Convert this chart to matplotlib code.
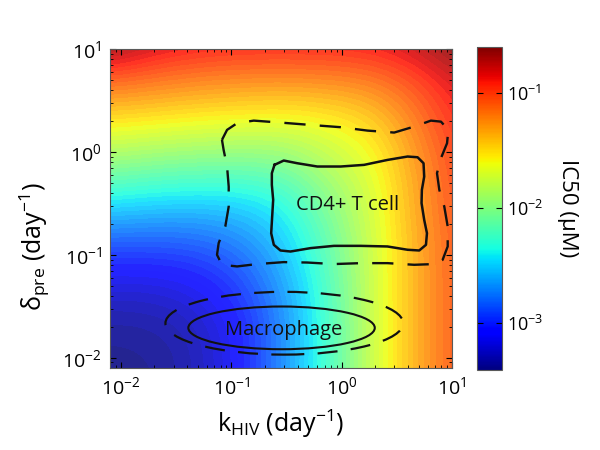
import numpy as np
import matplotlib
matplotlib.use('Agg')
import matplotlib.pyplot as plt
from matplotlib.colors import LogNorm
from matplotlib.patches import Ellipse
from matplotlib.ticker import FixedLocator, FuncFormatter

plt.rcParams['font.family'] = ['Open Sans', 'DejaVu Sans']
plt.rcParams['mathtext.fontset'] = 'custom'
plt.rcParams['mathtext.rm'] = 'Open Sans'
plt.rcParams['mathtext.it'] = 'Open Sans:italic'
plt.rcParams['mathtext.default'] = 'regular'

# grille : log10(k_HIV), log10(delta_pre)
log_k = [-2.1, -1.7, -1.3, -0.9, -0.5, -0.1, 0.3, 0.7, 1.1]
log_delta = [-2.1, -1.7, -1.3, -0.9, -0.5, -0.1, 0.3, 0.7, 1.1]

# log10(IC50 en uM), une ligne par valeur de delta_pre (du bas vers le haut)
log_ic50 = [
    [-3.40, -3.38, -3.28, -3.06, -2.66, -2.23, -1.72, -1.33, -1.02],
    [-3.35, -3.34, -3.26, -3.05, -2.68, -2.23, -1.72, -1.33, -1.02],
    [-3.18, -3.18, -3.11, -2.94, -2.62, -2.20, -1.72, -1.33, -1.02],
    [-2.88, -2.88, -2.86, -2.74, -2.50, -2.13, -1.72, -1.33, -1.01],
    [-2.43, -2.48, -2.50, -2.48, -2.36, -2.01, -1.70, -1.30, -0.98],
    [-1.95, -2.01, -2.04, -2.06, -2.03, -1.81, -1.64, -1.27, -0.95],
    [-1.53, -1.56, -1.60, -1.62, -1.64, -1.60, -1.48, -1.17, -0.88],
    [-1.09, -1.14, -1.19, -1.22, -1.23, -1.21, -1.17, -1.01, -0.78],
    [-0.52, -0.72, -0.80, -0.82, -0.82, -0.82, -0.80, -0.70, -0.52],
]
ic50_min, ic50_max = 10 ** -3.41, 10 ** -0.6

# contours CD4+ T cell (log10)
cd4_x = [-0.609, -0.525, -0.403, -0.221, -0.009, 0.203, 0.415, 0.597, 0.688, 0.742,
         0.748, 0.727, 0.724, 0.748, 0.773, 0.764, 0.703, 0.597, 0.415, 0.173,
         -0.070, -0.282, -0.464, -0.555, -0.615, -0.639, -0.630, -0.621, -0.633, -0.633]
cd4_y = [-0.126, -0.084, -0.110, -0.142, -0.142, -0.126, -0.078, -0.045, -0.052, -0.110,
         -0.240, -0.369, -0.498, -0.660, -0.790, -0.903, -0.958, -0.951, -0.919, -0.913,
         -0.913, -0.935, -0.968, -0.958, -0.903, -0.790, -0.628, -0.466, -0.320, -0.207]
cd4_dash_x = [-1.085, -1.039, -0.948, -0.797, -0.555, -0.282, -0.009, 0.234, 0.476, 0.657,
              0.809, 0.900, 0.967, 0.955, 0.900, 0.864, 0.885, 0.930, 0.961, 0.961,
              0.915, 0.839, 0.657, 0.415, 0.173, -0.070, -0.312, -0.525, -0.766, -0.948,
              -1.085, -1.130, -1.115, -1.055, -1.024, -1.024, -1.039, -1.070]
cd4_dash_y = [0.117, 0.214, 0.279, 0.304, 0.285, 0.262, 0.240, 0.207, 0.188, 0.246,
              0.304, 0.294, 0.214, 0.084, -0.061, -0.207, -0.369, -0.531, -0.725, -0.919,
              -1.049, -1.090, -1.097, -1.081, -1.081, -1.090, -1.075, -1.071, -1.090, -1.113,
              -1.097, -1.000, -0.886, -0.725, -0.531, -0.337, -0.142, 0.019]

# contours macrophage : centre, largeur, hauteur (log10)
macro_solid = (-0.545, -1.71, 1.69, 0.415)
macro_dash = (-0.52, -1.665, 2.155, 0.61)

fig = plt.figure(figsize=(6, 4.5), dpi=100)
ax = fig.add_axes([110 / 600, 82 / 450, 342 / 600, 319 / 450])

step = log_k[1] - log_k[0]
extent = [log_k[0] - step / 2, log_k[-1] + step / 2,
          log_delta[0] - step / 2, log_delta[-1] + step / 2]
ax.imshow(np.array(log_ic50), origin='lower', extent=extent, aspect='auto',
          cmap=plt.get_cmap('jet', 64), vmin=np.log10(ic50_min), vmax=np.log10(ic50_max),
          interpolation='bicubic', interpolation_stage='data', alpha=0.86)

lc = '#111111'
ax.plot(cd4_x + cd4_x[:1], cd4_y + cd4_y[:1], color=lc, lw=1.8)
ax.plot(cd4_dash_x + cd4_dash_x[:1], cd4_dash_y + cd4_dash_y[:1], color=lc, lw=1.7,
        linestyle=(0, (9, 6)))
cx, cy, w, h = macro_solid
ax.add_patch(Ellipse((cx, cy), w, h, fill=False, ec=lc, lw=1.5))
cx, cy, w, h = macro_dash
ax.add_patch(Ellipse((cx, cy), w, h, fill=False, ec=lc, lw=1.6, linestyle=(0, (9, 6))))

ax.text(0.052, -0.515, 'CD4+ T cell', ha='center', va='center', fontsize=14.5, color='#111111')
ax.text(-0.525, -1.73, 'Macrophage', ha='center', va='center', fontsize=14.5, color='#111111')

ax.set_xlim(-2.1, 1.0)
ax.set_ylim(-2.1, 1.0)
minor = [e + np.log10(m) for e in (-3, -2, -1, 0) for m in range(2, 10)]
fmt = FuncFormatter(lambda v, p: '$10^{%d}$' % int(round(v)))
for axis in (ax.xaxis, ax.yaxis):
    axis.set_major_locator(FixedLocator([-2, -1, 0, 1]))
    axis.set_minor_locator(FixedLocator(minor))
    axis.set_major_formatter(fmt)
ax.tick_params(which='both', direction='in', top=True, right=True, labelsize=14, pad=6)
ax.tick_params(which='major', length=4, width=0.8)
ax.tick_params(which='minor', length=2.5, width=0.6)
for s in ax.spines.values():
    s.set_color('0.35')
    s.set_linewidth(0.8)

ax.set_xlabel('k$_{HIV}$ (day$^{-1}$)', fontsize=18)
ax.set_ylabel('δ$_{pre}$ (day$^{-1}$)', fontsize=18)
ax.xaxis.set_label_coords(0.5, -0.125)
ax.yaxis.set_label_coords(-0.17, 0.38)

cax = fig.add_axes([477 / 600, 80 / 450, 25 / 600, 323 / 450])
sm = plt.cm.ScalarMappable(norm=LogNorm(ic50_min, ic50_max), cmap='jet')
cb = fig.colorbar(sm, cax=cax)
cb.set_ticks([1e-3, 1e-2, 1e-1])
cb.ax.minorticks_off()
cb.ax.tick_params(direction='in', left=True, right=True, length=4, width=0.8, labelsize=13)
cb.outline.set_edgecolor('0.35')
cb.outline.set_linewidth(0.8)
cb.set_label('IC50 (µM)', rotation=270, fontsize=16, labelpad=25)

fig.savefig('out.png', dpi=100)
